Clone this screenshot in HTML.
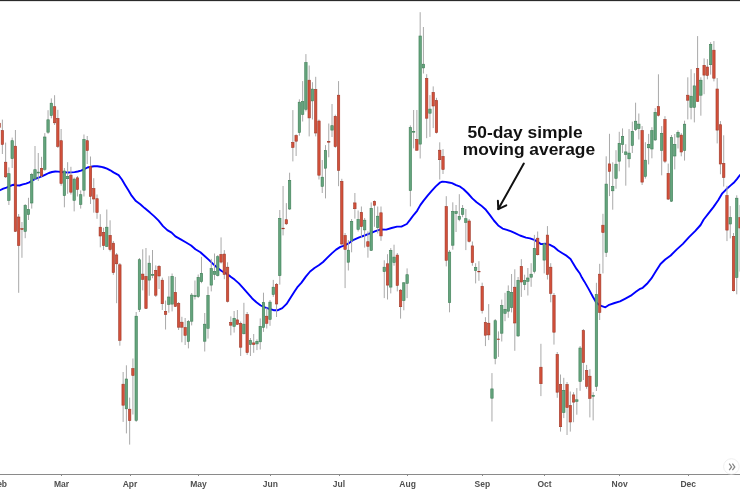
<!DOCTYPE html>
<html><head><meta charset="utf-8"><style>
html,body{margin:0;padding:0;background:#fff;}
body{width:740px;height:492px;overflow:hidden;font-family:"Liberation Sans", sans-serif;}
svg{display:block;will-change:transform;}
</style></head><body>
<svg width="740" height="492" viewBox="0 0 740 492">
<rect width="740" height="492" fill="#ffffff"/>
<rect x="0" y="0" width="740" height="1" fill="#2a2a2a"/><rect x="0" y="1" width="740" height="1" fill="#e4e4e4"/>
<polyline points="0,190.2 3.3,188.6 6.5,187.6 9.8,186 13,184.8 16.3,185.3 19.5,185.5 22.8,184.4 26,183.6 29.3,182.4 32.5,180.3 35.8,178.7 39,177.5 42.3,176.1 45.5,174.6 48.8,173 52,172 55.3,171.5 58.3,171.6 61.5,172 64.8,172.3 68,172.5 71.3,172.4 74.5,172.1 77.8,171.5 81,170.7 84.3,169.1 87.5,167.5 90.8,166.7 94,166.3 97.3,166.3 100.5,166.7 103.8,167.5 107,168.7 110.3,170.3 113.5,172.4 118.6,175.1 121.9,179.5 125.1,184.9 128.4,190.3 131.6,195.7 135.9,201.1 140.3,204.3 144.6,208.1 150,212.6 154.3,216.4 158.6,220.7 163,226.1 167.3,230.1 171.6,232.6 175.4,236.4 180.3,239.1 185.7,242.3 191.1,245.5 195.4,249.3 200.4,252.3 204.3,255.8 208.6,259.6 213,263.9 217.3,267.7 221.6,271 225.9,273.3 230.3,276.4 234.6,279.6 238.9,283.4 243.2,288.2 247.6,293.1 252,298.2 256.4,302.3 260.7,305.5 265,307.4 269.3,308.8 273.6,310.2 278,310.2 282.3,308.2 286.6,303.9 291,296.9 294.5,291.5 297.2,287.4 301.5,282.6 305.8,276.6 310.1,271.5 314.5,268 318.8,265.3 323.1,262 327.4,257.7 331.8,253.4 336.1,249.6 340.4,246.9 344.7,245.3 349.1,243.1 353.6,239.8 359.2,237.4 364.6,235.5 370,233.4 375.4,231.2 380.8,229.4 386.2,229.6 391.6,228 397,226.6 401.4,226.6 406.8,224 410,219.9 413.8,214.8 417.1,210.8 420.3,205.1 423.6,200.6 427.6,195.7 431.7,190.9 435.8,186.4 439.8,182.7 442.3,181.7 445.5,181.9 448.8,182.5 452,183.1 456.1,185.2 459.5,186.3 463.6,189.2 468,193.5 472.3,198.4 476.6,202.2 481,205.4 485.3,209.2 489.6,214.6 493.9,220.5 498.2,225.4 502.6,228.6 506.9,229.9 511.2,231.4 514.5,232.8 520,235.5 526,237.6 530,238.4 534.3,239.9 538.6,242.4 540.8,244.1 545.1,243.8 549.5,244.6 553.8,246.8 558.1,250.5 562.4,253.2 566.8,255.9 570.5,259 573.2,263.5 576.5,268.9 579.7,273.2 581.9,277.6 584.3,281.4 588.6,288.9 593,297 596.2,302.4 600.5,305.7 605.4,307.3 609.2,304.8 614.6,303 620,301.4 625.4,298.6 630.8,295.7 636.2,291.6 639.5,289.2 642.7,287.8 647,283.8 651.4,278.4 655.7,271.6 660.5,264 665.2,259.5 670.7,255.5 676.8,249.4 682.9,243.9 689,237.2 695.1,231.1 700.6,225 703.7,219.5 708.5,213.4 713.4,207.1 718.2,200.3 722.3,193.3 726.3,189.3 730.4,185.6 733.7,182.8 736.9,179.1 740,175" fill="none" stroke="#0000ff" stroke-width="1.9" stroke-linejoin="round" stroke-linecap="round"/>
<g stroke="#a9a9a9" stroke-width="1"><line x1="-0.90" y1="119.0" x2="-0.90" y2="132.0"/><line x1="2.36" y1="119.6" x2="2.36" y2="154.0"/><line x1="5.63" y1="142.6" x2="5.63" y2="178.0"/><line x1="8.89" y1="167.4" x2="8.89" y2="205.0"/><line x1="12.16" y1="137.6" x2="12.16" y2="168.0"/><line x1="15.42" y1="130.0" x2="15.42" y2="232.0"/><line x1="18.68" y1="214.0" x2="18.68" y2="292.8"/><line x1="21.95" y1="222.0" x2="21.95" y2="257.8"/><line x1="25.21" y1="204.0" x2="25.21" y2="238.2"/><line x1="28.48" y1="197.8" x2="28.48" y2="220.0"/><line x1="31.74" y1="172.8" x2="31.74" y2="208.6"/><line x1="35.00" y1="146.0" x2="35.00" y2="180.0"/><line x1="38.27" y1="153.0" x2="38.27" y2="181.0"/><line x1="41.53" y1="156.8" x2="41.53" y2="177.0"/><line x1="44.80" y1="133.1" x2="44.80" y2="170.8"/><line x1="48.06" y1="110.2" x2="48.06" y2="133.8"/><line x1="51.32" y1="98.4" x2="51.32" y2="118.3"/><line x1="54.59" y1="95.2" x2="54.59" y2="125.0"/><line x1="57.85" y1="109.8" x2="57.85" y2="148.0"/><line x1="61.12" y1="129.0" x2="61.12" y2="185.7"/><line x1="64.38" y1="168.0" x2="64.38" y2="207.3"/><line x1="67.64" y1="162.2" x2="67.64" y2="193.8"/><line x1="70.91" y1="166.8" x2="70.91" y2="194.5"/><line x1="74.17" y1="177.6" x2="74.17" y2="211.4"/><line x1="77.44" y1="176.0" x2="77.44" y2="196.5"/><line x1="80.70" y1="190.4" x2="80.70" y2="208.6"/><line x1="83.96" y1="134.5" x2="83.96" y2="196.5"/><line x1="87.23" y1="136.0" x2="87.23" y2="164.0"/><line x1="90.49" y1="156.5" x2="90.49" y2="204.0"/><line x1="93.76" y1="178.2" x2="93.76" y2="212.7"/><line x1="97.02" y1="194.5" x2="97.02" y2="218.8"/><line x1="100.28" y1="214.2" x2="100.28" y2="247.3"/><line x1="103.55" y1="227.7" x2="103.55" y2="250.0"/><line x1="106.81" y1="209.5" x2="106.81" y2="247.0"/><line x1="110.08" y1="220.3" x2="110.08" y2="251.4"/><line x1="113.34" y1="241.0" x2="113.34" y2="274.9"/><line x1="116.60" y1="253.0" x2="116.60" y2="303.2"/><line x1="119.87" y1="263.0" x2="119.87" y2="345.7"/><line x1="123.13" y1="372.0" x2="123.13" y2="421.9"/><line x1="126.40" y1="365.3" x2="126.40" y2="433.4"/><line x1="129.66" y1="397.6" x2="129.66" y2="444.6"/><line x1="132.92" y1="358.5" x2="132.92" y2="414.5"/><line x1="136.19" y1="312.0" x2="136.19" y2="421.9"/><line x1="139.45" y1="258.0" x2="139.45" y2="312.0"/><line x1="142.72" y1="249.3" x2="142.72" y2="290.4"/><line x1="145.98" y1="248.0" x2="145.98" y2="309.0"/><line x1="149.24" y1="255.4" x2="149.24" y2="295.8"/><line x1="152.51" y1="250.0" x2="152.51" y2="278.2"/><line x1="155.77" y1="265.4" x2="155.77" y2="297.0"/><line x1="159.04" y1="265.0" x2="159.04" y2="289.0"/><line x1="162.30" y1="277.6" x2="162.30" y2="310.0"/><line x1="165.56" y1="300.5" x2="165.56" y2="329.5"/><line x1="168.83" y1="276.2" x2="168.83" y2="312.7"/><line x1="172.09" y1="273.5" x2="172.09" y2="311.4"/><line x1="175.36" y1="276.9" x2="175.36" y2="307.0"/><line x1="178.62" y1="302.0" x2="178.62" y2="330.0"/><line x1="181.88" y1="316.8" x2="181.88" y2="342.3"/><line x1="185.15" y1="318.0" x2="185.15" y2="345.0"/><line x1="188.41" y1="320.0" x2="188.41" y2="348.4"/><line x1="191.68" y1="293.0" x2="191.68" y2="325.4"/><line x1="194.94" y1="280.5" x2="194.94" y2="299.5"/><line x1="198.20" y1="274.5" x2="198.20" y2="298.0"/><line x1="201.47" y1="256.9" x2="201.47" y2="283.2"/><line x1="204.73" y1="313.0" x2="204.73" y2="351.5"/><line x1="208.00" y1="286.6" x2="208.00" y2="338.6"/><line x1="211.26" y1="258.9" x2="211.26" y2="291.4"/><line x1="214.52" y1="253.5" x2="214.52" y2="279.9"/><line x1="217.79" y1="255.0" x2="217.79" y2="276.5"/><line x1="221.05" y1="237.4" x2="221.05" y2="263.5"/><line x1="224.32" y1="250.1" x2="224.32" y2="279.2"/><line x1="227.58" y1="262.3" x2="227.58" y2="302.5"/><line x1="230.84" y1="316.4" x2="230.84" y2="335.3"/><line x1="234.11" y1="311.0" x2="234.11" y2="332.6"/><line x1="237.37" y1="310.0" x2="237.37" y2="325.0"/><line x1="240.64" y1="321.5" x2="240.64" y2="356.0"/><line x1="243.90" y1="302.8" x2="243.90" y2="334.5"/><line x1="247.16" y1="312.0" x2="247.16" y2="354.9"/><line x1="250.43" y1="338.0" x2="250.43" y2="356.0"/><line x1="253.69" y1="334.0" x2="253.69" y2="352.8"/><line x1="256.96" y1="339.3" x2="256.96" y2="350.1"/><line x1="260.22" y1="318.4" x2="260.22" y2="349.5"/><line x1="263.48" y1="292.7" x2="263.48" y2="331.9"/><line x1="266.75" y1="307.6" x2="266.75" y2="328.5"/><line x1="270.01" y1="300.0" x2="270.01" y2="325.8"/><line x1="273.28" y1="279.9" x2="273.28" y2="296.8"/><line x1="276.54" y1="283.0" x2="276.54" y2="317.0"/><line x1="279.80" y1="210.0" x2="279.80" y2="284.6"/><line x1="283.07" y1="186.0" x2="283.07" y2="235.4"/><line x1="286.33" y1="203.1" x2="286.33" y2="225.0"/><line x1="289.60" y1="172.7" x2="289.60" y2="210.0"/><line x1="292.86" y1="110.1" x2="292.86" y2="161.4"/><line x1="296.12" y1="134.3" x2="296.12" y2="156.0"/><line x1="299.39" y1="99.3" x2="299.39" y2="135.7"/><line x1="302.65" y1="81.1" x2="302.65" y2="121.5"/><line x1="305.92" y1="54.1" x2="305.92" y2="111.4"/><line x1="309.18" y1="65.5" x2="309.18" y2="136.4"/><line x1="312.44" y1="82.2" x2="312.44" y2="119.5"/><line x1="315.71" y1="76.8" x2="315.71" y2="136.4"/><line x1="318.97" y1="119.5" x2="318.97" y2="179.5"/><line x1="322.24" y1="160.0" x2="322.24" y2="193.0"/><line x1="325.50" y1="145.1" x2="325.50" y2="198.4"/><line x1="328.76" y1="123.5" x2="328.76" y2="157.3"/><line x1="332.03" y1="104.0" x2="332.03" y2="137.0"/><line x1="335.29" y1="114.7" x2="335.29" y2="147.8"/><line x1="338.56" y1="81.1" x2="338.56" y2="186.2"/><line x1="341.82" y1="178.8" x2="341.82" y2="245.5"/><line x1="345.08" y1="233.0" x2="345.08" y2="288.1"/><line x1="348.35" y1="240.1" x2="348.35" y2="270.5"/><line x1="351.61" y1="219.0" x2="351.61" y2="252.3"/><line x1="354.88" y1="193.0" x2="354.88" y2="218.6"/><line x1="358.14" y1="210.5" x2="358.14" y2="231.5"/><line x1="361.40" y1="206.5" x2="361.40" y2="238.1"/><line x1="364.67" y1="218.0" x2="364.67" y2="247.6"/><line x1="367.93" y1="231.4" x2="367.93" y2="257.7"/><line x1="371.20" y1="202.4" x2="371.20" y2="251.0"/><line x1="374.46" y1="200.4" x2="374.46" y2="226.8"/><line x1="377.72" y1="206.5" x2="377.72" y2="233.5"/><line x1="380.99" y1="206.5" x2="380.99" y2="240.8"/><line x1="384.25" y1="260.3" x2="384.25" y2="298.1"/><line x1="387.52" y1="254.2" x2="387.52" y2="299.5"/><line x1="390.78" y1="248.1" x2="390.78" y2="293.4"/><line x1="394.04" y1="244.7" x2="394.04" y2="265.7"/><line x1="397.31" y1="253.0" x2="397.31" y2="291.4"/><line x1="400.57" y1="289.0" x2="400.57" y2="318.6"/><line x1="403.84" y1="282.0" x2="403.84" y2="310.3"/><line x1="407.10" y1="268.4" x2="407.10" y2="298.1"/><line x1="410.36" y1="125.4" x2="410.36" y2="206.4"/><line x1="413.63" y1="110.0" x2="413.63" y2="148.4"/><line x1="416.89" y1="110.0" x2="416.89" y2="151.0"/><line x1="420.16" y1="12.2" x2="420.16" y2="158.5"/><line x1="423.42" y1="27.0" x2="423.42" y2="73.5"/><line x1="426.68" y1="74.2" x2="426.68" y2="138.2"/><line x1="429.95" y1="95.1" x2="429.95" y2="136.9"/><line x1="433.21" y1="86.4" x2="433.21" y2="128.1"/><line x1="436.48" y1="97.8" x2="436.48" y2="133.5"/><line x1="439.74" y1="142.3" x2="439.74" y2="179.5"/><line x1="443.00" y1="149.1" x2="443.00" y2="174.0"/><line x1="446.27" y1="196.2" x2="446.27" y2="266.4"/><line x1="449.53" y1="250.0" x2="449.53" y2="312.3"/><line x1="452.80" y1="202.3" x2="452.80" y2="249.7"/><line x1="456.06" y1="205.0" x2="456.06" y2="232.0"/><line x1="459.32" y1="194.2" x2="459.32" y2="221.2"/><line x1="462.59" y1="205.0" x2="462.59" y2="217.2"/><line x1="465.85" y1="209.1" x2="465.85" y2="250.1"/><line x1="469.12" y1="219.0" x2="469.12" y2="242.5"/><line x1="472.38" y1="241.5" x2="472.38" y2="265.7"/><line x1="475.64" y1="263.2" x2="475.64" y2="283.4"/><line x1="478.91" y1="261.2" x2="478.91" y2="280.8"/><line x1="482.17" y1="282.7" x2="482.17" y2="313.5"/><line x1="485.44" y1="317.2" x2="485.44" y2="346.1"/><line x1="488.70" y1="304.1" x2="488.70" y2="340.1"/><line x1="491.96" y1="373.1" x2="491.96" y2="421.5"/><line x1="495.23" y1="319.0" x2="495.23" y2="364.3"/><line x1="498.49" y1="331.4" x2="498.49" y2="356.9"/><line x1="501.76" y1="299.6" x2="501.76" y2="341.5"/><line x1="505.02" y1="292.8" x2="505.02" y2="321.2"/><line x1="508.28" y1="285.4" x2="508.28" y2="317.8"/><line x1="511.55" y1="274.0" x2="511.55" y2="312.4"/><line x1="514.81" y1="269.3" x2="514.81" y2="350.8"/><line x1="518.08" y1="277.0" x2="518.08" y2="337.0"/><line x1="521.34" y1="259.2" x2="521.34" y2="296.9"/><line x1="524.60" y1="274.7" x2="524.60" y2="290.1"/><line x1="527.87" y1="268.0" x2="527.87" y2="295.5"/><line x1="531.13" y1="263.2" x2="531.13" y2="286.8"/><line x1="534.40" y1="234.9" x2="534.40" y2="273.4"/><line x1="537.66" y1="231.5" x2="537.66" y2="255.5"/><line x1="540.92" y1="343.8" x2="540.92" y2="396.1"/><line x1="544.19" y1="243.0" x2="544.19" y2="273.4"/><line x1="547.45" y1="226.1" x2="547.45" y2="279.5"/><line x1="550.72" y1="263.2" x2="550.72" y2="302.3"/><line x1="553.98" y1="293.0" x2="553.98" y2="344.6"/><line x1="557.24" y1="352.0" x2="557.24" y2="397.8"/><line x1="560.51" y1="374.5" x2="560.51" y2="431.6"/><line x1="563.77" y1="377.8" x2="563.77" y2="418.1"/><line x1="567.04" y1="382.0" x2="567.04" y2="435.0"/><line x1="570.30" y1="391.5" x2="570.30" y2="431.6"/><line x1="573.56" y1="392.2" x2="573.56" y2="422.2"/><line x1="576.83" y1="388.1" x2="576.83" y2="414.7"/><line x1="580.09" y1="346.0" x2="580.09" y2="390.8"/><line x1="583.36" y1="329.0" x2="583.36" y2="380.0"/><line x1="586.62" y1="364.9" x2="586.62" y2="388.8"/><line x1="589.88" y1="369.2" x2="589.88" y2="417.4"/><line x1="593.15" y1="392.2" x2="593.15" y2="420.4"/><line x1="596.41" y1="282.8" x2="596.41" y2="391.0"/><line x1="599.68" y1="263.8" x2="599.68" y2="320.0"/><line x1="602.94" y1="213.8" x2="602.94" y2="273.4"/><line x1="606.20" y1="156.3" x2="606.20" y2="257.0"/><line x1="609.47" y1="133.8" x2="609.47" y2="196.1"/><line x1="612.73" y1="162.3" x2="612.73" y2="209.7"/><line x1="616.00" y1="150.2" x2="616.00" y2="188.7"/><line x1="619.26" y1="131.8" x2="619.26" y2="171.3"/><line x1="622.52" y1="128.4" x2="622.52" y2="153.0"/><line x1="625.79" y1="144.2" x2="625.79" y2="185.7"/><line x1="629.05" y1="129.1" x2="629.05" y2="167.5"/><line x1="632.32" y1="121.6" x2="632.32" y2="153.0"/><line x1="635.58" y1="102.7" x2="635.58" y2="131.0"/><line x1="638.84" y1="113.5" x2="638.84" y2="139.5"/><line x1="642.11" y1="126.1" x2="642.11" y2="185.0"/><line x1="645.37" y1="142.2" x2="645.37" y2="178.6"/><line x1="648.64" y1="133.9" x2="648.64" y2="164.4"/><line x1="651.90" y1="127.2" x2="651.90" y2="158.3"/><line x1="655.16" y1="108.1" x2="655.16" y2="141.0"/><line x1="658.43" y1="74.3" x2="658.43" y2="116.5"/><line x1="661.69" y1="126.1" x2="661.69" y2="175.3"/><line x1="664.96" y1="116.2" x2="664.96" y2="163.1"/><line x1="668.22" y1="163.6" x2="668.22" y2="200.0"/><line x1="671.48" y1="135.0" x2="671.48" y2="202.0"/><line x1="674.75" y1="134.0" x2="674.75" y2="169.4"/><line x1="678.01" y1="130.4" x2="678.01" y2="148.5"/><line x1="681.28" y1="133.1" x2="681.28" y2="156.3"/><line x1="684.54" y1="120.7" x2="684.54" y2="160.6"/><line x1="687.80" y1="77.3" x2="687.80" y2="119.4"/><line x1="691.07" y1="69.2" x2="691.07" y2="119.4"/><line x1="694.33" y1="73.2" x2="694.33" y2="122.4"/><line x1="697.60" y1="36.1" x2="697.60" y2="102.0"/><line x1="700.86" y1="77.3" x2="700.86" y2="115.7"/><line x1="704.12" y1="58.4" x2="704.12" y2="94.2"/><line x1="707.39" y1="59.1" x2="707.39" y2="79.3"/><line x1="710.65" y1="42.2" x2="710.65" y2="74.6"/><line x1="713.92" y1="41.1" x2="713.92" y2="81.4"/><line x1="717.18" y1="78.0" x2="717.18" y2="143.4"/><line x1="720.44" y1="121.1" x2="720.44" y2="174.3"/><line x1="723.71" y1="135.3" x2="723.71" y2="186.5"/><line x1="726.97" y1="185.8" x2="726.97" y2="241.1"/><line x1="730.24" y1="206.1" x2="730.24" y2="238.4"/><line x1="733.50" y1="233.0" x2="733.50" y2="291.5"/><line x1="736.76" y1="195.3" x2="736.76" y2="294.3"/><line x1="740.03" y1="205.0" x2="740.03" y2="271.6"/></g>
<style>.g{fill:#64a47d;stroke:#3f7f57;stroke-width:0.6}.r{fill:#d2503a;stroke:#a0392a;stroke-width:0.6}</style><g><rect class="r" x="-2.10" y="123.2" width="2.4" height="4.4"/><rect class="r" x="1.16" y="130.6" width="2.4" height="13.8"/><rect class="r" x="4.43" y="162.2" width="2.4" height="14.6"/><rect class="g" x="7.69" y="173.7" width="2.4" height="26.6"/><rect class="g" x="10.96" y="140.7" width="2.4" height="17.9"/><rect class="r" x="14.22" y="146.2" width="2.4" height="85.1"/><rect class="r" x="17.48" y="217.0" width="2.4" height="28.5"/><rect class="r" x="20.75" y="228.6" width="2.4" height="0.9"/><rect class="g" x="24.01" y="205.5" width="2.4" height="25.8"/><rect class="g" x="27.28" y="209.5" width="2.4" height="5.0"/><rect class="g" x="30.54" y="174.4" width="2.4" height="28.6"/><rect class="g" x="33.80" y="169.7" width="2.4" height="9.1"/><rect class="g" x="37.07" y="172.1" width="2.4" height="0.9"/><rect class="r" x="40.33" y="168.3" width="2.4" height="7.7"/><rect class="g" x="43.60" y="137.0" width="2.4" height="32.3"/><rect class="g" x="46.86" y="119.8" width="2.4" height="12.4"/><rect class="g" x="50.12" y="103.2" width="2.4" height="12.3"/><rect class="r" x="53.39" y="106.7" width="2.4" height="16.1"/><rect class="r" x="56.65" y="118.4" width="2.4" height="28.0"/><rect class="r" x="59.92" y="140.7" width="2.4" height="42.7"/><rect class="g" x="63.18" y="171.0" width="2.4" height="24.6"/><rect class="g" x="66.44" y="176.4" width="2.4" height="2.3"/><rect class="r" x="69.71" y="175.1" width="2.4" height="17.1"/><rect class="g" x="72.97" y="179.1" width="2.4" height="21.2"/><rect class="r" x="76.24" y="177.8" width="2.4" height="11.7"/><rect class="g" x="79.50" y="194.7" width="2.4" height="9.7"/><rect class="g" x="82.76" y="139.4" width="2.4" height="50.8"/><rect class="r" x="86.03" y="140.7" width="2.4" height="9.8"/><rect class="r" x="89.29" y="166.3" width="2.4" height="30.0"/><rect class="r" x="92.56" y="188.6" width="2.4" height="10.4"/><rect class="r" x="95.82" y="198.7" width="2.4" height="13.8"/><rect class="r" x="99.08" y="227.2" width="2.4" height="8.8"/><rect class="r" x="102.35" y="232.4" width="2.4" height="13.1"/><rect class="g" x="105.61" y="227.2" width="2.4" height="19.2"/><rect class="r" x="108.88" y="235.3" width="2.4" height="14.2"/><rect class="r" x="112.14" y="243.2" width="2.4" height="29.4"/><rect class="r" x="115.40" y="254.9" width="2.4" height="8.9"/><rect class="r" x="118.67" y="264.8" width="2.4" height="75.5"/><rect class="r" x="121.93" y="384.2" width="2.4" height="21.0"/><rect class="g" x="125.20" y="379.0" width="2.4" height="29.8"/><rect class="r" x="128.46" y="409.2" width="2.4" height="11.4"/><rect class="r" x="131.72" y="368.6" width="2.4" height="6.9"/><rect class="g" x="134.99" y="316.2" width="2.4" height="104.1"/><rect class="g" x="138.25" y="259.7" width="2.4" height="49.8"/><rect class="r" x="141.52" y="274.1" width="2.4" height="5.3"/><rect class="r" x="144.78" y="276.4" width="2.4" height="32.0"/><rect class="g" x="148.04" y="263.2" width="2.4" height="16.9"/><rect class="g" x="151.31" y="274.4" width="2.4" height="0.9"/><rect class="r" x="154.57" y="270.3" width="2.4" height="24.9"/><rect class="r" x="157.84" y="266.3" width="2.4" height="9.7"/><rect class="r" x="161.10" y="280.2" width="2.4" height="23.5"/><rect class="r" x="164.36" y="311.3" width="2.4" height="3.2"/><rect class="g" x="167.63" y="297.0" width="2.4" height="7.4"/><rect class="g" x="170.89" y="276.4" width="2.4" height="27.7"/><rect class="r" x="174.16" y="292.4" width="2.4" height="14.0"/><rect class="r" x="177.42" y="303.4" width="2.4" height="23.8"/><rect class="r" x="180.68" y="322.2" width="2.4" height="5.0"/><rect class="r" x="183.95" y="327.6" width="2.4" height="7.7"/><rect class="g" x="187.21" y="321.6" width="2.4" height="19.8"/><rect class="g" x="190.48" y="295.1" width="2.4" height="26.1"/><rect class="g" x="193.74" y="295.6" width="2.4" height="1.0"/><rect class="g" x="197.00" y="277.4" width="2.4" height="19.2"/><rect class="g" x="200.27" y="273.3" width="2.4" height="8.4"/><rect class="g" x="203.53" y="324.2" width="2.4" height="17.0"/><rect class="g" x="206.80" y="295.3" width="2.4" height="33.0"/><rect class="g" x="210.06" y="268.6" width="2.4" height="16.5"/><rect class="g" x="213.32" y="271.6" width="2.4" height="2.7"/><rect class="g" x="216.59" y="256.7" width="2.4" height="18.9"/><rect class="r" x="219.85" y="254.4" width="2.4" height="7.7"/><rect class="r" x="223.12" y="254.1" width="2.4" height="20.2"/><rect class="r" x="226.38" y="267.2" width="2.4" height="34.1"/><rect class="r" x="229.64" y="322.4" width="2.4" height="2.8"/><rect class="g" x="232.91" y="318.3" width="2.4" height="8.0"/><rect class="r" x="236.17" y="319.9" width="2.4" height="4.4"/><rect class="r" x="239.44" y="323.3" width="2.4" height="23.9"/><rect class="g" x="242.70" y="324.2" width="2.4" height="9.5"/><rect class="r" x="245.96" y="314.5" width="2.4" height="38.1"/><rect class="g" x="249.23" y="340.5" width="2.4" height="4.0"/><rect class="r" x="252.49" y="342.9" width="2.4" height="1.6"/><rect class="g" x="255.76" y="341.3" width="2.4" height="2.6"/><rect class="g" x="259.02" y="326.4" width="2.4" height="15.4"/><rect class="g" x="262.28" y="302.6" width="2.4" height="24.8"/><rect class="r" x="265.55" y="316.2" width="2.4" height="7.1"/><rect class="g" x="268.81" y="302.1" width="2.4" height="17.2"/><rect class="g" x="272.08" y="287.2" width="2.4" height="7.3"/><rect class="r" x="275.34" y="284.5" width="2.4" height="19.5"/><rect class="g" x="278.60" y="218.3" width="2.4" height="57.3"/><rect class="r" x="281.87" y="228.2" width="2.4" height="0.6"/><rect class="r" x="285.13" y="219.7" width="2.4" height="4.1"/><rect class="g" x="288.40" y="180.3" width="2.4" height="28.7"/><rect class="r" x="291.66" y="142.4" width="2.4" height="5.0"/><rect class="r" x="294.92" y="135.6" width="2.4" height="5.6"/><rect class="g" x="298.19" y="102.2" width="2.4" height="30.3"/><rect class="g" x="301.45" y="101.6" width="2.4" height="12.8"/><rect class="g" x="304.72" y="62.6" width="2.4" height="46.7"/><rect class="r" x="307.98" y="80.2" width="2.4" height="37.7"/><rect class="g" x="311.24" y="89.1" width="2.4" height="11.8"/><rect class="r" x="314.51" y="89.4" width="2.4" height="43.6"/><rect class="r" x="317.77" y="121.0" width="2.4" height="54.2"/><rect class="g" x="321.04" y="177.2" width="2.4" height="9.1"/><rect class="g" x="324.30" y="150.5" width="2.4" height="17.7"/><rect class="r" x="327.56" y="141.3" width="2.4" height="0.9"/><rect class="g" x="330.83" y="125.7" width="2.4" height="4.4"/><rect class="r" x="334.09" y="116.3" width="2.4" height="30.3"/><rect class="r" x="337.36" y="95.2" width="2.4" height="75.1"/><rect class="r" x="340.62" y="181.3" width="2.4" height="62.7"/><rect class="r" x="343.88" y="235.6" width="2.4" height="13.8"/><rect class="g" x="347.15" y="250.2" width="2.4" height="12.0"/><rect class="g" x="350.41" y="221.3" width="2.4" height="19.3"/><rect class="r" x="353.68" y="202.9" width="2.4" height="5.8"/><rect class="g" x="356.94" y="219.5" width="2.4" height="9.8"/><rect class="r" x="360.20" y="212.4" width="2.4" height="14.2"/><rect class="g" x="363.47" y="220.2" width="2.4" height="9.7"/><rect class="r" x="366.73" y="241.7" width="2.4" height="4.6"/><rect class="g" x="370.00" y="208.3" width="2.4" height="42.0"/><rect class="r" x="373.26" y="201.3" width="2.4" height="3.9"/><rect class="g" x="376.52" y="216.2" width="2.4" height="11.4"/><rect class="r" x="379.79" y="212.8" width="2.4" height="23.1"/><rect class="g" x="383.05" y="267.2" width="2.4" height="4.4"/><rect class="r" x="386.32" y="263.8" width="2.4" height="21.3"/><rect class="g" x="389.58" y="250.3" width="2.4" height="36.8"/><rect class="g" x="392.84" y="257.1" width="2.4" height="5.4"/><rect class="r" x="396.11" y="255.1" width="2.4" height="30.4"/><rect class="r" x="399.37" y="290.2" width="2.4" height="16.5"/><rect class="g" x="402.64" y="282.8" width="2.4" height="17.8"/><rect class="g" x="405.90" y="274.7" width="2.4" height="8.6"/><rect class="g" x="409.16" y="127.6" width="2.4" height="63.0"/><rect class="g" x="412.43" y="131.3" width="2.4" height="0.9"/><rect class="r" x="415.69" y="139.5" width="2.4" height="10.7"/><rect class="g" x="418.96" y="36.0" width="2.4" height="108.1"/><rect class="g" x="422.22" y="64.2" width="2.4" height="3.7"/><rect class="r" x="425.48" y="78.4" width="2.4" height="39.8"/><rect class="g" x="428.75" y="109.1" width="2.4" height="4.1"/><rect class="r" x="432.01" y="92.4" width="2.4" height="13.6"/><rect class="r" x="435.28" y="100.5" width="2.4" height="32.1"/><rect class="r" x="438.54" y="150.2" width="2.4" height="9.5"/><rect class="r" x="441.80" y="156.4" width="2.4" height="13.1"/><rect class="r" x="445.07" y="206.6" width="2.4" height="53.7"/><rect class="g" x="448.33" y="252.1" width="2.4" height="50.5"/><rect class="g" x="451.60" y="211.3" width="2.4" height="33.9"/><rect class="g" x="454.86" y="211.6" width="2.4" height="2.0"/><rect class="g" x="458.12" y="216.4" width="2.4" height="2.9"/><rect class="g" x="461.39" y="208.3" width="2.4" height="6.0"/><rect class="g" x="464.65" y="218.7" width="2.4" height="3.7"/><rect class="r" x="467.92" y="221.0" width="2.4" height="20.3"/><rect class="r" x="471.18" y="245.9" width="2.4" height="16.6"/><rect class="g" x="474.44" y="267.5" width="2.4" height="3.0"/><rect class="r" x="477.71" y="271.3" width="2.4" height="0.6"/><rect class="r" x="480.97" y="286.3" width="2.4" height="24.3"/><rect class="r" x="484.24" y="322.4" width="2.4" height="12.8"/><rect class="r" x="487.50" y="323.2" width="2.4" height="11.7"/><rect class="g" x="490.76" y="388.9" width="2.4" height="9.3"/><rect class="g" x="494.03" y="320.7" width="2.4" height="37.7"/><rect class="r" x="497.29" y="339.0" width="2.4" height="0.6"/><rect class="g" x="500.56" y="305.6" width="2.4" height="27.6"/><rect class="g" x="503.82" y="309.3" width="2.4" height="4.0"/><rect class="g" x="507.08" y="291.3" width="2.4" height="19.9"/><rect class="g" x="510.35" y="292.4" width="2.4" height="15.1"/><rect class="r" x="513.61" y="287.2" width="2.4" height="35.8"/><rect class="g" x="516.88" y="280.3" width="2.4" height="55.6"/><rect class="r" x="520.14" y="266.4" width="2.4" height="15.6"/><rect class="g" x="523.40" y="280.3" width="2.4" height="4.2"/><rect class="g" x="526.67" y="278.0" width="2.4" height="3.3"/><rect class="g" x="529.93" y="274.2" width="2.4" height="3.0"/><rect class="g" x="533.20" y="248.3" width="2.4" height="23.1"/><rect class="r" x="536.46" y="238.2" width="2.4" height="16.5"/><rect class="r" x="539.72" y="367.2" width="2.4" height="16.5"/><rect class="g" x="542.99" y="243.8" width="2.4" height="16.3"/><rect class="r" x="546.25" y="235.1" width="2.4" height="39.4"/><rect class="r" x="549.52" y="267.2" width="2.4" height="26.1"/><rect class="r" x="552.78" y="295.3" width="2.4" height="36.9"/><rect class="r" x="556.04" y="354.4" width="2.4" height="37.8"/><rect class="r" x="559.31" y="384.5" width="2.4" height="42.2"/><rect class="g" x="562.57" y="390.3" width="2.4" height="22.2"/><rect class="r" x="565.84" y="384.5" width="2.4" height="23.0"/><rect class="r" x="569.10" y="405.5" width="2.4" height="16.5"/><rect class="r" x="572.36" y="394.9" width="2.4" height="7.2"/><rect class="g" x="575.63" y="399.8" width="2.4" height="1.5"/><rect class="g" x="578.89" y="348.0" width="2.4" height="33.4"/><rect class="r" x="582.16" y="330.6" width="2.4" height="31.9"/><rect class="r" x="585.42" y="370.5" width="2.4" height="15.8"/><rect class="r" x="588.68" y="376.2" width="2.4" height="22.1"/><rect class="g" x="591.95" y="395.3" width="2.4" height="1.0"/><rect class="g" x="595.21" y="294.5" width="2.4" height="91.9"/><rect class="r" x="598.48" y="274.2" width="2.4" height="38.2"/><rect class="r" x="601.74" y="225.2" width="2.4" height="7.3"/><rect class="g" x="605.00" y="184.1" width="2.4" height="68.3"/><rect class="r" x="608.27" y="163.9" width="2.4" height="7.4"/><rect class="g" x="611.53" y="186.4" width="2.4" height="4.4"/><rect class="g" x="614.80" y="164.2" width="2.4" height="14.1"/><rect class="g" x="618.06" y="143.3" width="2.4" height="17.9"/><rect class="g" x="621.32" y="136.3" width="2.4" height="8.1"/><rect class="g" x="624.59" y="151.9" width="2.4" height="2.5"/><rect class="g" x="627.85" y="153.1" width="2.4" height="5.7"/><rect class="g" x="631.12" y="131.3" width="2.4" height="14.1"/><rect class="g" x="634.38" y="121.2" width="2.4" height="8.3"/><rect class="g" x="637.64" y="124.1" width="2.4" height="4.5"/><rect class="r" x="640.91" y="130.6" width="2.4" height="51.5"/><rect class="g" x="644.17" y="160.2" width="2.4" height="16.2"/><rect class="g" x="647.44" y="144.4" width="2.4" height="3.4"/><rect class="g" x="650.70" y="130.6" width="2.4" height="18.4"/><rect class="g" x="653.96" y="112.4" width="2.4" height="27.5"/><rect class="r" x="657.23" y="106.6" width="2.4" height="8.7"/><rect class="g" x="660.49" y="133.3" width="2.4" height="17.0"/><rect class="r" x="663.76" y="119.5" width="2.4" height="41.7"/><rect class="r" x="667.02" y="173.4" width="2.4" height="25.7"/><rect class="g" x="670.28" y="137.5" width="2.4" height="63.7"/><rect class="g" x="673.55" y="144.4" width="2.4" height="11.6"/><rect class="g" x="676.81" y="132.3" width="2.4" height="4.8"/><rect class="r" x="680.08" y="135.1" width="2.4" height="16.9"/><rect class="g" x="683.34" y="124.2" width="2.4" height="26.1"/><rect class="r" x="686.60" y="95.2" width="2.4" height="5.0"/><rect class="g" x="689.87" y="96.2" width="2.4" height="11.1"/><rect class="g" x="693.13" y="85.9" width="2.4" height="21.4"/><rect class="r" x="696.40" y="68.3" width="2.4" height="33.0"/><rect class="g" x="699.66" y="80.2" width="2.4" height="15.0"/><rect class="r" x="702.92" y="65.3" width="2.4" height="9.8"/><rect class="r" x="706.19" y="67.0" width="2.4" height="8.5"/><rect class="g" x="709.45" y="44.4" width="2.4" height="20.3"/><rect class="r" x="712.72" y="50.2" width="2.4" height="28.0"/><rect class="r" x="715.98" y="89.0" width="2.4" height="41.1"/><rect class="r" x="719.24" y="124.7" width="2.4" height="39.3"/><rect class="r" x="722.51" y="163.4" width="2.4" height="14.1"/><rect class="r" x="725.77" y="195.5" width="2.4" height="34.6"/><rect class="g" x="729.04" y="217.6" width="2.4" height="6.4"/><rect class="r" x="732.30" y="236.6" width="2.4" height="54.1"/><rect class="g" x="735.56" y="198.2" width="2.4" height="79.2"/><rect class="r" x="738.83" y="217.6" width="2.4" height="10.4"/></g>
<line x1="0" y1="474.5" x2="740" y2="474.5" stroke="#8a8a8a" stroke-width="1"/>
<g stroke="#8a8a8a" stroke-width="1"><line x1="-0.5" y1="474" x2="-0.5" y2="476"/><line x1="61.5" y1="474" x2="61.5" y2="476"/><line x1="130.5" y1="474" x2="130.5" y2="476"/><line x1="198.5" y1="474" x2="198.5" y2="476"/><line x1="270.5" y1="474" x2="270.5" y2="476"/><line x1="339.5" y1="474" x2="339.5" y2="476"/><line x1="407.5" y1="474" x2="407.5" y2="476"/><line x1="482.5" y1="474" x2="482.5" y2="476"/><line x1="544.5" y1="474" x2="544.5" y2="476"/><line x1="619.5" y1="474" x2="619.5" y2="476"/><line x1="688.5" y1="474" x2="688.5" y2="476"/></g>
<g font-family="'Liberation Sans', sans-serif" font-weight="bold" font-size="8.5" fill="#505050" text-anchor="middle" opacity="0.999"><text x="-0.5" y="486.7">Feb</text><text x="61.5" y="486.7">Mar</text><text x="130.0" y="486.7">Apr</text><text x="198.5" y="486.7">May</text><text x="270.4" y="486.7">Jun</text><text x="339.0" y="486.7">Jul</text><text x="407.6" y="486.7">Aug</text><text x="482.4" y="486.7">Sep</text><text x="544.6" y="486.7">Oct</text><text x="619.6" y="486.7">Nov</text><text x="688.2" y="486.7">Dec</text></g>
<g font-family="'Liberation Sans', sans-serif" font-weight="bold" font-size="17.4" fill="#111" opacity="0.999">
<text x="525.1" y="137.8" text-anchor="middle">50-day simple</text>
<text x="528.9" y="154.6" text-anchor="middle">moving average</text>
</g>
<g stroke="#111" stroke-width="2" fill="none" stroke-linecap="round" stroke-linejoin="round">
<line x1="523.8" y1="163.6" x2="498.3" y2="209"/>
<polyline points="497.9,200.8 498.3,209.2 506.3,205.3"/>
</g>
<circle cx="731.4" cy="466.5" r="7.8" fill="#ffffff" fill-opacity="0.75" stroke="#e8e8e8" stroke-width="0.7"/>
<g stroke="#858585" stroke-width="1.25" fill="none" stroke-linejoin="miter"><polyline points="729.2,463.6 731.6,466.9 729.2,470.2"/><polyline points="732.4,463.6 734.8,466.9 732.4,470.2"/></g>
</svg>
</body></html>
